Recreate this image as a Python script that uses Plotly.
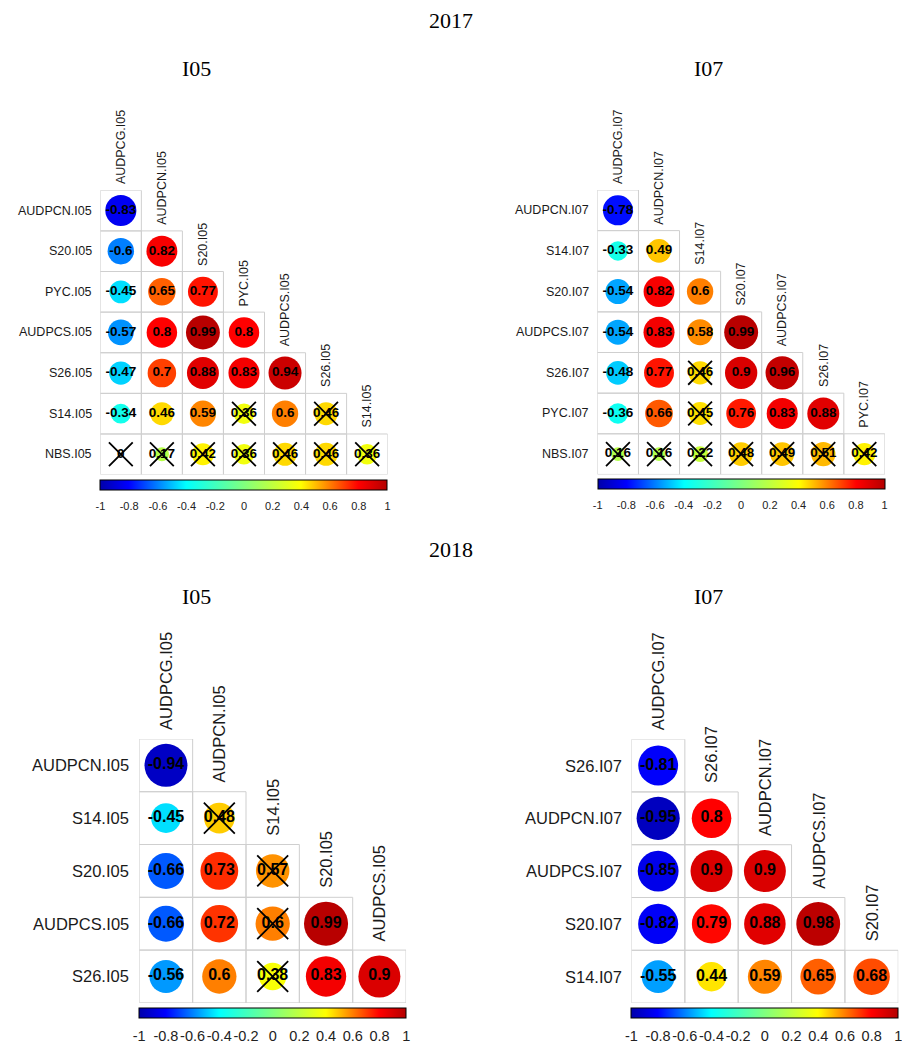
import plotly.graph_objects as go

W, H = 902, 1045

# ---- 2017, I05 ----
rows_17_i05 = ["AUDPCN.I05", "S20.I05", "PYC.I05", "AUDPCS.I05", "S26.I05", "S14.I05", "NBS.I05"]
cols_17_i05 = ["AUDPCG.I05", "AUDPCN.I05", "S20.I05", "PYC.I05", "AUDPCS.I05", "S26.I05", "S14.I05"]
r_17_i05 = [
    [-0.83],
    [-0.6, 0.82],
    [-0.45, 0.65, 0.77],
    [-0.57, 0.8, 0.99, 0.8],
    [-0.47, 0.7, 0.88, 0.83, 0.94],
    [-0.34, 0.46, 0.59, 0.36, 0.6, 0.46],
    [0.0, 0.17, 0.42, 0.36, 0.46, 0.46, 0.36],
]
ns_17_i05 = [
    [0],
    [0, 0],
    [0, 0, 0],
    [0, 0, 0, 0],
    [0, 0, 0, 0, 0],
    [0, 0, 0, 1, 0, 1],
    [1, 1, 1, 1, 1, 1, 1],
]

# ---- 2017, I07 ----
rows_17_i07 = ["AUDPCN.I07", "S14.I07", "S20.I07", "AUDPCS.I07", "S26.I07", "PYC.I07", "NBS.I07"]
cols_17_i07 = ["AUDPCG.I07", "AUDPCN.I07", "S14.I07", "S20.I07", "AUDPCS.I07", "S26.I07", "PYC.I07"]
r_17_i07 = [
    [-0.78],
    [-0.33, 0.49],
    [-0.54, 0.82, 0.6],
    [-0.54, 0.83, 0.58, 0.99],
    [-0.48, 0.77, 0.46, 0.9, 0.96],
    [-0.36, 0.66, 0.45, 0.76, 0.83, 0.88],
    [0.16, 0.16, 0.22, 0.48, 0.49, 0.51, 0.42],
]
ns_17_i07 = [
    [0],
    [0, 0],
    [0, 0, 0],
    [0, 0, 0, 0],
    [0, 0, 1, 0, 0],
    [0, 0, 1, 0, 0, 0],
    [1, 1, 1, 1, 1, 1, 1],
]

# ---- 2018, I05 ----
rows_18_i05 = ["AUDPCN.I05", "S14.I05", "S20.I05", "AUDPCS.I05", "S26.I05"]
cols_18_i05 = ["AUDPCG.I05", "AUDPCN.I05", "S14.I05", "S20.I05", "AUDPCS.I05"]
r_18_i05 = [
    [-0.94],
    [-0.45, 0.48],
    [-0.66, 0.73, 0.57],
    [-0.66, 0.72, 0.6, 0.99],
    [-0.56, 0.6, 0.38, 0.83, 0.9],
]
ns_18_i05 = [
    [0],
    [0, 1],
    [0, 0, 1],
    [0, 0, 1, 0],
    [0, 0, 1, 0, 0],
]

# ---- 2018, I07 ----
rows_18_i07 = ["S26.I07", "AUDPCN.I07", "AUDPCS.I07", "S20.I07", "S14.I07"]
cols_18_i07 = ["AUDPCG.I07", "S26.I07", "AUDPCN.I07", "AUDPCS.I07", "S20.I07"]
r_18_i07 = [
    [-0.81],
    [-0.95, 0.8],
    [-0.85, 0.9, 0.9],
    [-0.82, 0.79, 0.88, 0.98],
    [-0.55, 0.44, 0.59, 0.65, 0.68],
]
ns_18_i07 = [
    [0],
    [0, 0],
    [0, 0, 0],
    [0, 0, 0, 0],
    [0, 0, 0, 0, 0],
]

tick_vals = [-1, -0.8, -0.6, -0.4, -0.2, 0, 0.2, 0.4, 0.6, 0.8, 1]
tick_text = ["-1", "-0.8", "-0.6", "-0.4", "-0.2", "0", "0.2", "0.4", "0.6", "0.8", "1"]

jet = [
    [0.0, "#0000AA"], [0.1, "#0000FF"], [0.2, "#007FFF"], [0.3, "#00FFFF"],
    [0.5, "#7FFF7F"], [0.7, "#FFFF00"], [0.8, "#FF7F00"], [0.9, "#FF0000"],
    [1.0, "#B40000"],
]

SANS = "Liberation Sans, Arial, sans-serif"
SERIF = "Liberation Serif, Times New Roman, serif"

# panel placement (pixels): left, top, cell size, fonts, tick gap, label offsets
panels = [
    dict(rows=rows_17_i05, cols=cols_17_i05, r=r_17_i05, ns=ns_17_i05,
         x0=100.3, y0=192.3, cell=41.05, lab=12.5, num=13.5, cb=11, tl=7, rx=-6, cy=4),
    dict(rows=rows_17_i07, cols=cols_17_i07, r=r_17_i07, ns=ns_17_i07,
         x0=597.4, y0=192.0, cell=41.07, lab=12.5, num=13.5, cb=11, tl=7, rx=-6, cy=4),
    dict(rows=rows_18_i05, cols=cols_18_i05, r=r_18_i05, ns=ns_18_i05,
         x0=139.3, y0=746.8, cell=53.35, lab=16.5, num=16, cb=14.5, tl=6, rx=-8, cy=7),
    dict(rows=rows_18_i07, cols=cols_18_i07, r=r_18_i07, ns=ns_18_i07,
         x0=631.5, y0=747.0, cell=53.35, lab=16.5, num=16, cb=14.5, tl=6, rx=-8, cy=7),
]

fig = go.Figure()
layout_axes = {}
shapes = []
annotations = []

for k, p in enumerate(panels, start=1):
    n = len(p["rows"])
    cell = p["cell"]
    xa = "x" if k == 1 else f"x{k}"
    ya = "y" if k == 1 else f"y{k}"
    xname = "xaxis" if k == 1 else f"xaxis{k}"
    yname = "yaxis" if k == 1 else f"yaxis{k}"
    x0, y0 = p["x0"], p["y0"]
    layout_axes[xname] = dict(domain=[x0 / W, (x0 + n * cell) / W], range=[0, n],
                              visible=False, anchor=ya, fixedrange=True)
    layout_axes[yname] = dict(domain=[1 - (y0 + n * cell) / H, 1 - y0 / H], range=[n, 0],
                              visible=False, anchor=xa, fixedrange=True)

    cx, cy, vals, labels, xx, xy = [], [], [], [], [], []
    for i, row in enumerate(p["r"]):
        for j, v in enumerate(row):
            shapes.append(dict(type="rect", xref=xa, yref=ya, x0=j, x1=j + 1, y0=i, y1=i + 1,
                               line=dict(color="#CFCFCF", width=1), layer="below"))
            cx.append(j + 0.5)
            cy.append(i + 0.5)
            vals.append(v)
            labels.append(f"{v:g}")
            if p["ns"][i][j]:
                xx.append(j + 0.5)
                xy.append(i + 0.5)

    diam = 0.83 * cell
    sizes = [diam * abs(v) ** 0.5 for v in vals]
    cb_len = n * cell
    cb_top = y0 + n * cell + 5
    fig.add_trace(go.Scatter(
        x=cx, y=cy, xaxis=xa, yaxis=ya, mode="markers",
        marker=dict(size=sizes, color=vals, colorscale=jet, cmin=-1, cmax=1,
                    line=dict(width=0), opacity=1,
                    showscale=True,
                    colorbar=dict(orientation="h", x=(x0 + cb_len / 2) / W, xanchor="center",
                                  y=1 - cb_top / H, yanchor="top", len=cb_len, lenmode="pixels",
                                  thickness=9.5, thicknessmode="pixels", xpad=0, ypad=0,
                                  outlinewidth=1, outlinecolor="#000000",
                                  tickvals=tick_vals, ticktext=tick_text, tickangle=0,
                                  ticklabeloverflow="allow",
                                  ticks="outside", ticklen=p["tl"], tickcolor="rgba(0,0,0,0)",
                                  tickfont=dict(family=SANS, size=p["cb"], color="#222222"))),
        hoverinfo="skip", showlegend=False))
    fig.add_trace(go.Scatter(
        x=cx, y=cy, xaxis=xa, yaxis=ya, mode="text", text=labels,
        textfont=dict(family=SANS, size=p["num"], color="#000000", weight="bold"),
        cliponaxis=False, hoverinfo="skip", showlegend=False))
    fig.add_trace(go.Scatter(
        x=xx, y=xy, xaxis=xa, yaxis=ya, mode="markers",
        marker=dict(symbol="x-thin", size=0.58 * cell, color="#000000",
                    line=dict(color="#000000", width=1.8)),
        cliponaxis=False, hoverinfo="skip", showlegend=False))

    for i, name in enumerate(p["rows"]):
        annotations.append(dict(xref=xa, yref=ya, x=0, y=i + 0.5, text=name, showarrow=False,
                                xanchor="right", yanchor="middle", xshift=p["rx"],
                                font=dict(family=SANS, size=p["lab"], color="#1A1A1A")))
    for j, name in enumerate(p["cols"]):
        annotations.append(dict(xref=xa, yref=ya, x=j + 0.5, y=j, text=name, showarrow=False,
                                xanchor="center", yanchor="bottom", textangle=-90, yshift=p["cy"],
                                font=dict(family=SANS, size=p["lab"], color="#1A1A1A")))

titles = [("2017", 451, 21), ("I05", 196, 69), ("I07", 708, 69),
          ("2018", 451, 555), ("I05", 196, 603), ("I07", 708, 603)]
for t, px, py in titles:
    annotations.append(dict(xref="paper", yref="paper", x=px / W, y=1 - py / H, text=t,
                            showarrow=False, xanchor="center", yanchor="middle",
                            font=dict(family=SERIF, size=22, color="#000000")))

fig.update_layout(width=W, height=H, margin=dict(l=0, r=0, t=0, b=0),
                  paper_bgcolor="white", plot_bgcolor="white",
                  shapes=shapes, annotations=annotations, **layout_axes)

fig.write_html("out.html")
